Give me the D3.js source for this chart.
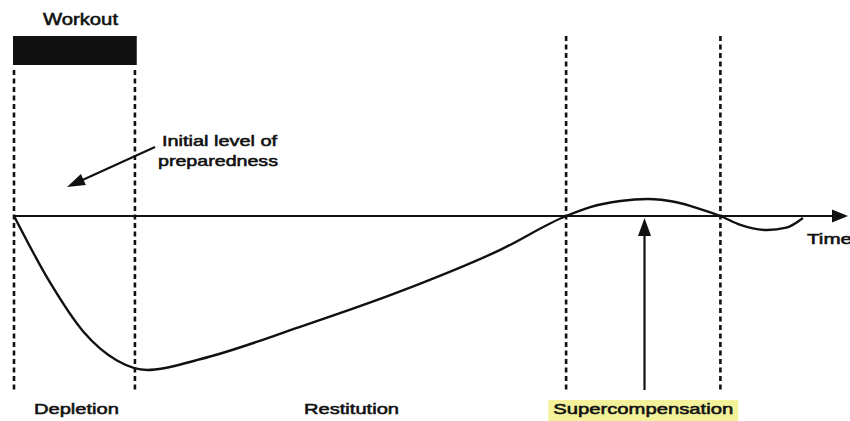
<!DOCTYPE html>
<html>
<head>
<meta charset="utf-8">
<script src="https://cdn.jsdelivr.net/npm/d3@7"></script>
<style>
  html, body { margin: 0; padding: 0; background: #fff; }
  svg { display: block; }
  text { font-family: "Liberation Sans", Arial, sans-serif; fill: #111; }
</style>
</head>
<body>
<svg id="chart" width="850" height="421"></svg>
<script>
// ---- data (time units, level relative to initial level of preparedness) ----
const curveTime  = [0, 4.3, 8.3, 12.4, 16.0, 22.3, 34.3, 46.3, 58.3, 66.2, 69.1, 72.7, 76.0, 79.3, 82.3, 84.7, 87.1, 90.3, 92.6, 94.6];
const curveLevel = [0, -43, -75, -94, -100, -93, -72, -49, -22, 0, 5.8, 9.7, 11.0, 9.1, 4.5, 0, -5.8, -9.1, -7.6, -1.3];
const phaseBounds = [0, 14.5, 66.2, 84.7];                 // dashed vertical lines
const phaseNames  = ["Depletion", "Restitution", "Supercompensation"];
const workout     = [0, 14.6];
const peakTime    = 75.6;                                   // vertical arrow
const timeMax     = 100;

const svg = d3.select("#chart");
const x = d3.scaleLinear().domain([0, timeMax]).range([14, 848]);
const y = d3.scaleLinear().domain([-100, 0]).range([370, 216]);

const ink = "#111";
const textStroke = 0.55;

// Workout bar
svg.append("rect")
  .attr("x", x(workout[0]) - 1).attr("y", 36)
  .attr("width", x(workout[1]) - x(workout[0]) + 2).attr("height", 29)
  .attr("fill", ink);
svg.append("text")
  .attr("x", 43).attr("y", 25)
  .attr("font-size", 16).attr("textLength", 75).attr("lengthAdjust", "spacingAndGlyphs")
  .attr("stroke", ink).attr("stroke-width", textStroke)
  .text("Workout");

// dashed phase boundaries
svg.selectAll("line.phase").data(phaseBounds).enter().append("line")
  .attr("class", "phase")
  .attr("x1", d => x(d)).attr("x2", d => x(d))
  .attr("y1", (d, i) => i < 2 ? 70 : 36).attr("y2", 390)
  .attr("stroke", ink).attr("stroke-width", 2.6)
  .attr("stroke-dasharray", "5,3.5");

// Time axis with arrow
svg.append("line")
  .attr("x1", x(0)).attr("x2", x(timeMax) - 12)
  .attr("y1", y(0)).attr("y2", y(0))
  .attr("stroke", ink).attr("stroke-width", 2.2);
svg.append("path")
  .attr("d", `M${x(timeMax)},${y(0)} L${x(timeMax) - 16},${y(0) - 6.5} L${x(timeMax) - 16},${y(0) + 6.5} Z`)
  .attr("fill", ink);
svg.append("text")
  .attr("x", 807).attr("y", 244)
  .attr("font-size", 15).attr("textLength", 45).attr("lengthAdjust", "spacingAndGlyphs")
  .attr("stroke", ink).attr("stroke-width", textStroke)
  .text("Time");

// Supercompensation curve
const pts = curveTime.map((t, i) => [t, curveLevel[i]]);
const line = d3.line().x(d => x(d[0])).y(d => y(d[1])).curve(d3.curveMonotoneX);
svg.append("path")
  .attr("d", line(pts))
  .attr("fill", "none").attr("stroke", ink).attr("stroke-width", 2.4);

// vertical arrow at the peak
svg.append("line")
  .attr("x1", x(peakTime)).attr("x2", x(peakTime))
  .attr("y1", 390).attr("y2", y(0) + 16)
  .attr("stroke", ink).attr("stroke-width", 2.2);
svg.append("path")
  .attr("d", `M${x(peakTime)},${y(0) + 2} L${x(peakTime) - 6.5},${y(0) + 20} L${x(peakTime) + 6.5},${y(0) + 20} Z`)
  .attr("fill", ink);

// Initial level of preparedness annotation
const a0 = [155, 147], a1 = [67, 187];
const ang = Math.atan2(a1[1] - a0[1], a1[0] - a0[0]);
const hl = 18, hw = 6;
const bx = a1[0] - hl * Math.cos(ang), by = a1[1] - hl * Math.sin(ang);
svg.append("line")
  .attr("x1", a0[0]).attr("y1", a0[1]).attr("x2", bx + 4 * Math.cos(ang)).attr("y2", by + 4 * Math.sin(ang))
  .attr("stroke", ink).attr("stroke-width", 2.2);
svg.append("path")
  .attr("d", `M${a1[0]},${a1[1]} L${bx - hw * Math.sin(ang)},${by + hw * Math.cos(ang)} L${bx + hw * Math.sin(ang)},${by - hw * Math.cos(ang)} Z`)
  .attr("fill", ink);
svg.append("text")
  .attr("x", 162).attr("y", 146)
  .attr("font-size", 15).attr("textLength", 115).attr("lengthAdjust", "spacingAndGlyphs")
  .attr("stroke", ink).attr("stroke-width", textStroke)
  .text("Initial level of");
svg.append("text")
  .attr("x", 158).attr("y", 166)
  .attr("font-size", 15).attr("textLength", 120).attr("lengthAdjust", "spacingAndGlyphs")
  .attr("stroke", ink).attr("stroke-width", textStroke)
  .text("preparedness");

// phase labels
const labelWidths = [85, 95, 180];
const centers = phaseNames.map((n, i) => (x(phaseBounds[i]) + x(phaseBounds[i + 1])) / 2);
// highlight behind Supercompensation
svg.append("rect")
  .attr("x", centers[2] - 95).attr("y", 400)
  .attr("width", 190).attr("height", 21)
  .attr("fill", "#f3f29b");
svg.selectAll("text.phase").data(phaseNames).enter().append("text")
  .attr("class", "phase")
  .attr("x", (d, i) => centers[i] + [2, 1, 0][i]).attr("y", 414)
  .attr("text-anchor", "middle")
  .attr("font-size", 15)
  .attr("textLength", (d, i) => labelWidths[i]).attr("lengthAdjust", "spacingAndGlyphs")
  .attr("stroke", ink).attr("stroke-width", textStroke)
  .text(d => d);
</script>
</body>
</html>
